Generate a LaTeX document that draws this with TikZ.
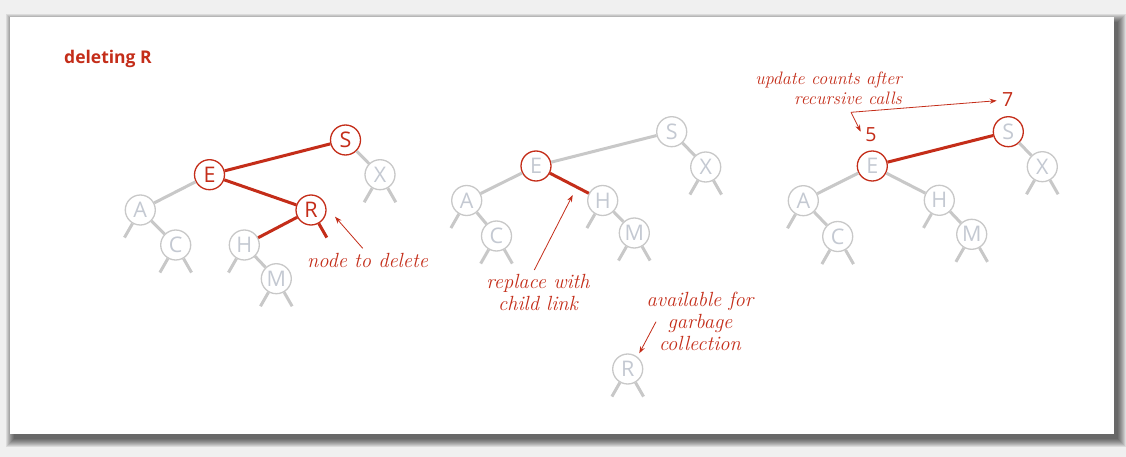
\documentclass[tikz,border=0pt]{standalone}
\usepackage{fontspec}
\setsansfont{Open Sans}
\usetikzlibrary{arrows.meta}
\definecolor{dred}{RGB}{196,45,25}
\definecolor{lgray}{RGB}{200,200,200}
\definecolor{ltext}{RGB}{196,201,210}
\definecolor{bg}{RGB}{240,240,240}
\begin{document}
\begin{tikzpicture}[x=1pt,y=-1pt,
  nd/.style={circle,draw=lgray,line width=1.3pt,fill=white,minimum size=30pt,inner sep=0pt,
    font=\sffamily\fontsize{21.5}{21.5}\selectfont,text=ltext},
  rn/.style={nd,draw=dred},
  rt/.style={text=dred},
  gl/.style={lgray,line width=3pt},
  rl/.style={dred,line width=3pt},
  num/.style={font=\sffamily\fontsize{19.5}{19.5}\selectfont,text=dred,inner sep=0pt},
  ann/.style={font=\itshape\fontsize{20.5}{22}\selectfont,text=dred,align=center,inner sep=0pt},
  arr/.style={dred,line width=0.8pt,-{Stealth[length=7pt,width=5pt]}}]
\useasboundingbox (0,0) rectangle (1126,457);
\fill[bg] (0,0) rectangle (1126,457);
\foreach \k in {0,...,8} \fill[black,opacity=0.085] (14-\k,22-\k) rectangle (1118+\k,439+\k);
\fill[white] (10,17) rectangle (1114,434);

\node[font=\sffamily\bfseries\fontsize{17.5}{17.5}\selectfont,text=dred,anchor=west,inner sep=0pt] (title) at (64,59) {deleting R};

% ---------- tree 1
\node[rn,rt] (S1) at (345.5,140) {S};
\node[rn,rt] (E1) at (209.5,174.7) {E};
\node[nd] (X1) at (380,174.7) {X};
\node[nd] (A1) at (140.3,210) {A};
\node[rn,rt] (R1) at (311,210) {R};
\node[nd] (C1) at (175.7,245) {C};
\node[nd] (H1) at (244.3,245) {H};
\node[nd] (M1) at (276.3,278.7) {M};
\draw[rl] (E1) -- (S1);
\draw[rl] (E1) -- (R1);
\draw[rl] (R1) -- (H1);
\draw[gl] (S1) -- (X1);
\draw[gl] (E1) -- (A1);
\draw[gl] (A1) -- (C1);
\draw[gl] (H1) -- (M1);
\draw[gl] (X1.240) -- ++(-8,14);
\draw[gl] (X1.300) -- ++(8,14);
\draw[gl] (A1.240) -- ++(-8,14);
\draw[gl] (C1.240) -- ++(-8,14);
\draw[gl] (C1.300) -- ++(8,14);
\draw[gl] (H1.240) -- ++(-8,14);
\draw[gl] (M1.240) -- ++(-8,14);
\draw[gl] (M1.300) -- ++(8,14);
\draw[rl] (R1.300) -- ++(8,14);

\node[ann] (t1) at (367.5,260) {node to delete};
\coordinate (t1a) at (362.7,248.3);
\coordinate (t1b) at (335,216.7);
\draw[arr] (t1a) -- (t1b);

% ---------- tree 2
\node[nd] (S2) at (671.7,131.7) {S};
\node[rn] (E2) at (536,166) {E};
\node[nd] (X2) at (705.7,167) {X};
\node[nd] (A2) at (466.7,200.5) {A};
\node[nd] (H2) at (602.7,200.5) {H};
\node[nd] (C2) at (496.5,236) {C};
\node[nd] (M2) at (634.3,233) {M};
\node[nd] (R2) at (627.7,369) {R};
\draw[gl] (E2) -- (S2);
\draw[gl] (S2) -- (X2);
\draw[gl] (E2) -- (A2);
\draw[gl] (A2) -- (C2);
\draw[rl] (E2) -- (H2);
\draw[gl] (H2) -- (M2);
\draw[gl] (X2.240) -- ++(-8,14);
\draw[gl] (X2.300) -- ++(8,14);
\draw[gl] (A2.240) -- ++(-8,14);
\draw[gl] (C2.240) -- ++(-8,14);
\draw[gl] (C2.300) -- ++(8,14);
\draw[gl] (H2.240) -- ++(-8,14);
\draw[gl] (M2.240) -- ++(-8,14);
\draw[gl] (M2.300) -- ++(8,14);
\draw[gl] (R2.240) -- ++(-8,14);
\draw[gl] (R2.300) -- ++(8,14);

\node[ann] (t2) at (538,292.5) {replace with\\child link};
\coordinate (t2a) at (534.3,270);
\coordinate (t2b) at (572.7,195);
\draw[arr] (t2a) -- (t2b);

\node[ann] (t3) at (700,321) {available for\\garbage\\collection};
\coordinate (t3a) at (656,321.7);
\coordinate (t3b) at (639.3,353.3);
\draw[arr] (t3a) -- (t3b);

% ---------- tree 3
\node[rn] (S3) at (1008.3,131.7) {S};
\node[rn] (E3) at (872.3,166) {E};
\node[nd] (X3) at (1042.3,166.7) {X};
\node[nd] (A3) at (803.3,200.7) {A};
\node[nd] (H3) at (939.3,200.3) {H};
\node[nd] (C3) at (837.7,236.5) {C};
\node[nd] (M3) at (971.7,234.3) {M};
\draw[rl] (E3) -- (S3);
\draw[gl] (S3) -- (X3);
\draw[gl] (E3) -- (A3);
\draw[gl] (A3) -- (C3);
\draw[gl] (E3) -- (H3);
\draw[gl] (H3) -- (M3);
\draw[gl] (X3.240) -- ++(-8,14);
\draw[gl] (X3.300) -- ++(8,14);
\draw[gl] (A3.240) -- ++(-8,14);
\draw[gl] (C3.240) -- ++(-8,14);
\draw[gl] (C3.300) -- ++(8,14);
\draw[gl] (H3.240) -- ++(-8,14);
\draw[gl] (M3.240) -- ++(-8,14);
\draw[gl] (M3.300) -- ++(8,14);

\node[num] (n5) at (871,134.3) {5};
\node[num] (n7) at (1007.7,100) {7};
\node[ann,font=\itshape\fontsize{18}{20}\selectfont,align=right,anchor=east] (t4) at (902,88) {update counts after\\recursive calls};
\coordinate (t4c) at (851,112.3);
\coordinate (t4a) at (996.7,100.7);
\coordinate (t4b) at (860.7,131.7);
\draw[arr] (t4c) -- (t4a);
\draw[arr] (t4c) -- (t4b);
\end{tikzpicture}
\end{document}
